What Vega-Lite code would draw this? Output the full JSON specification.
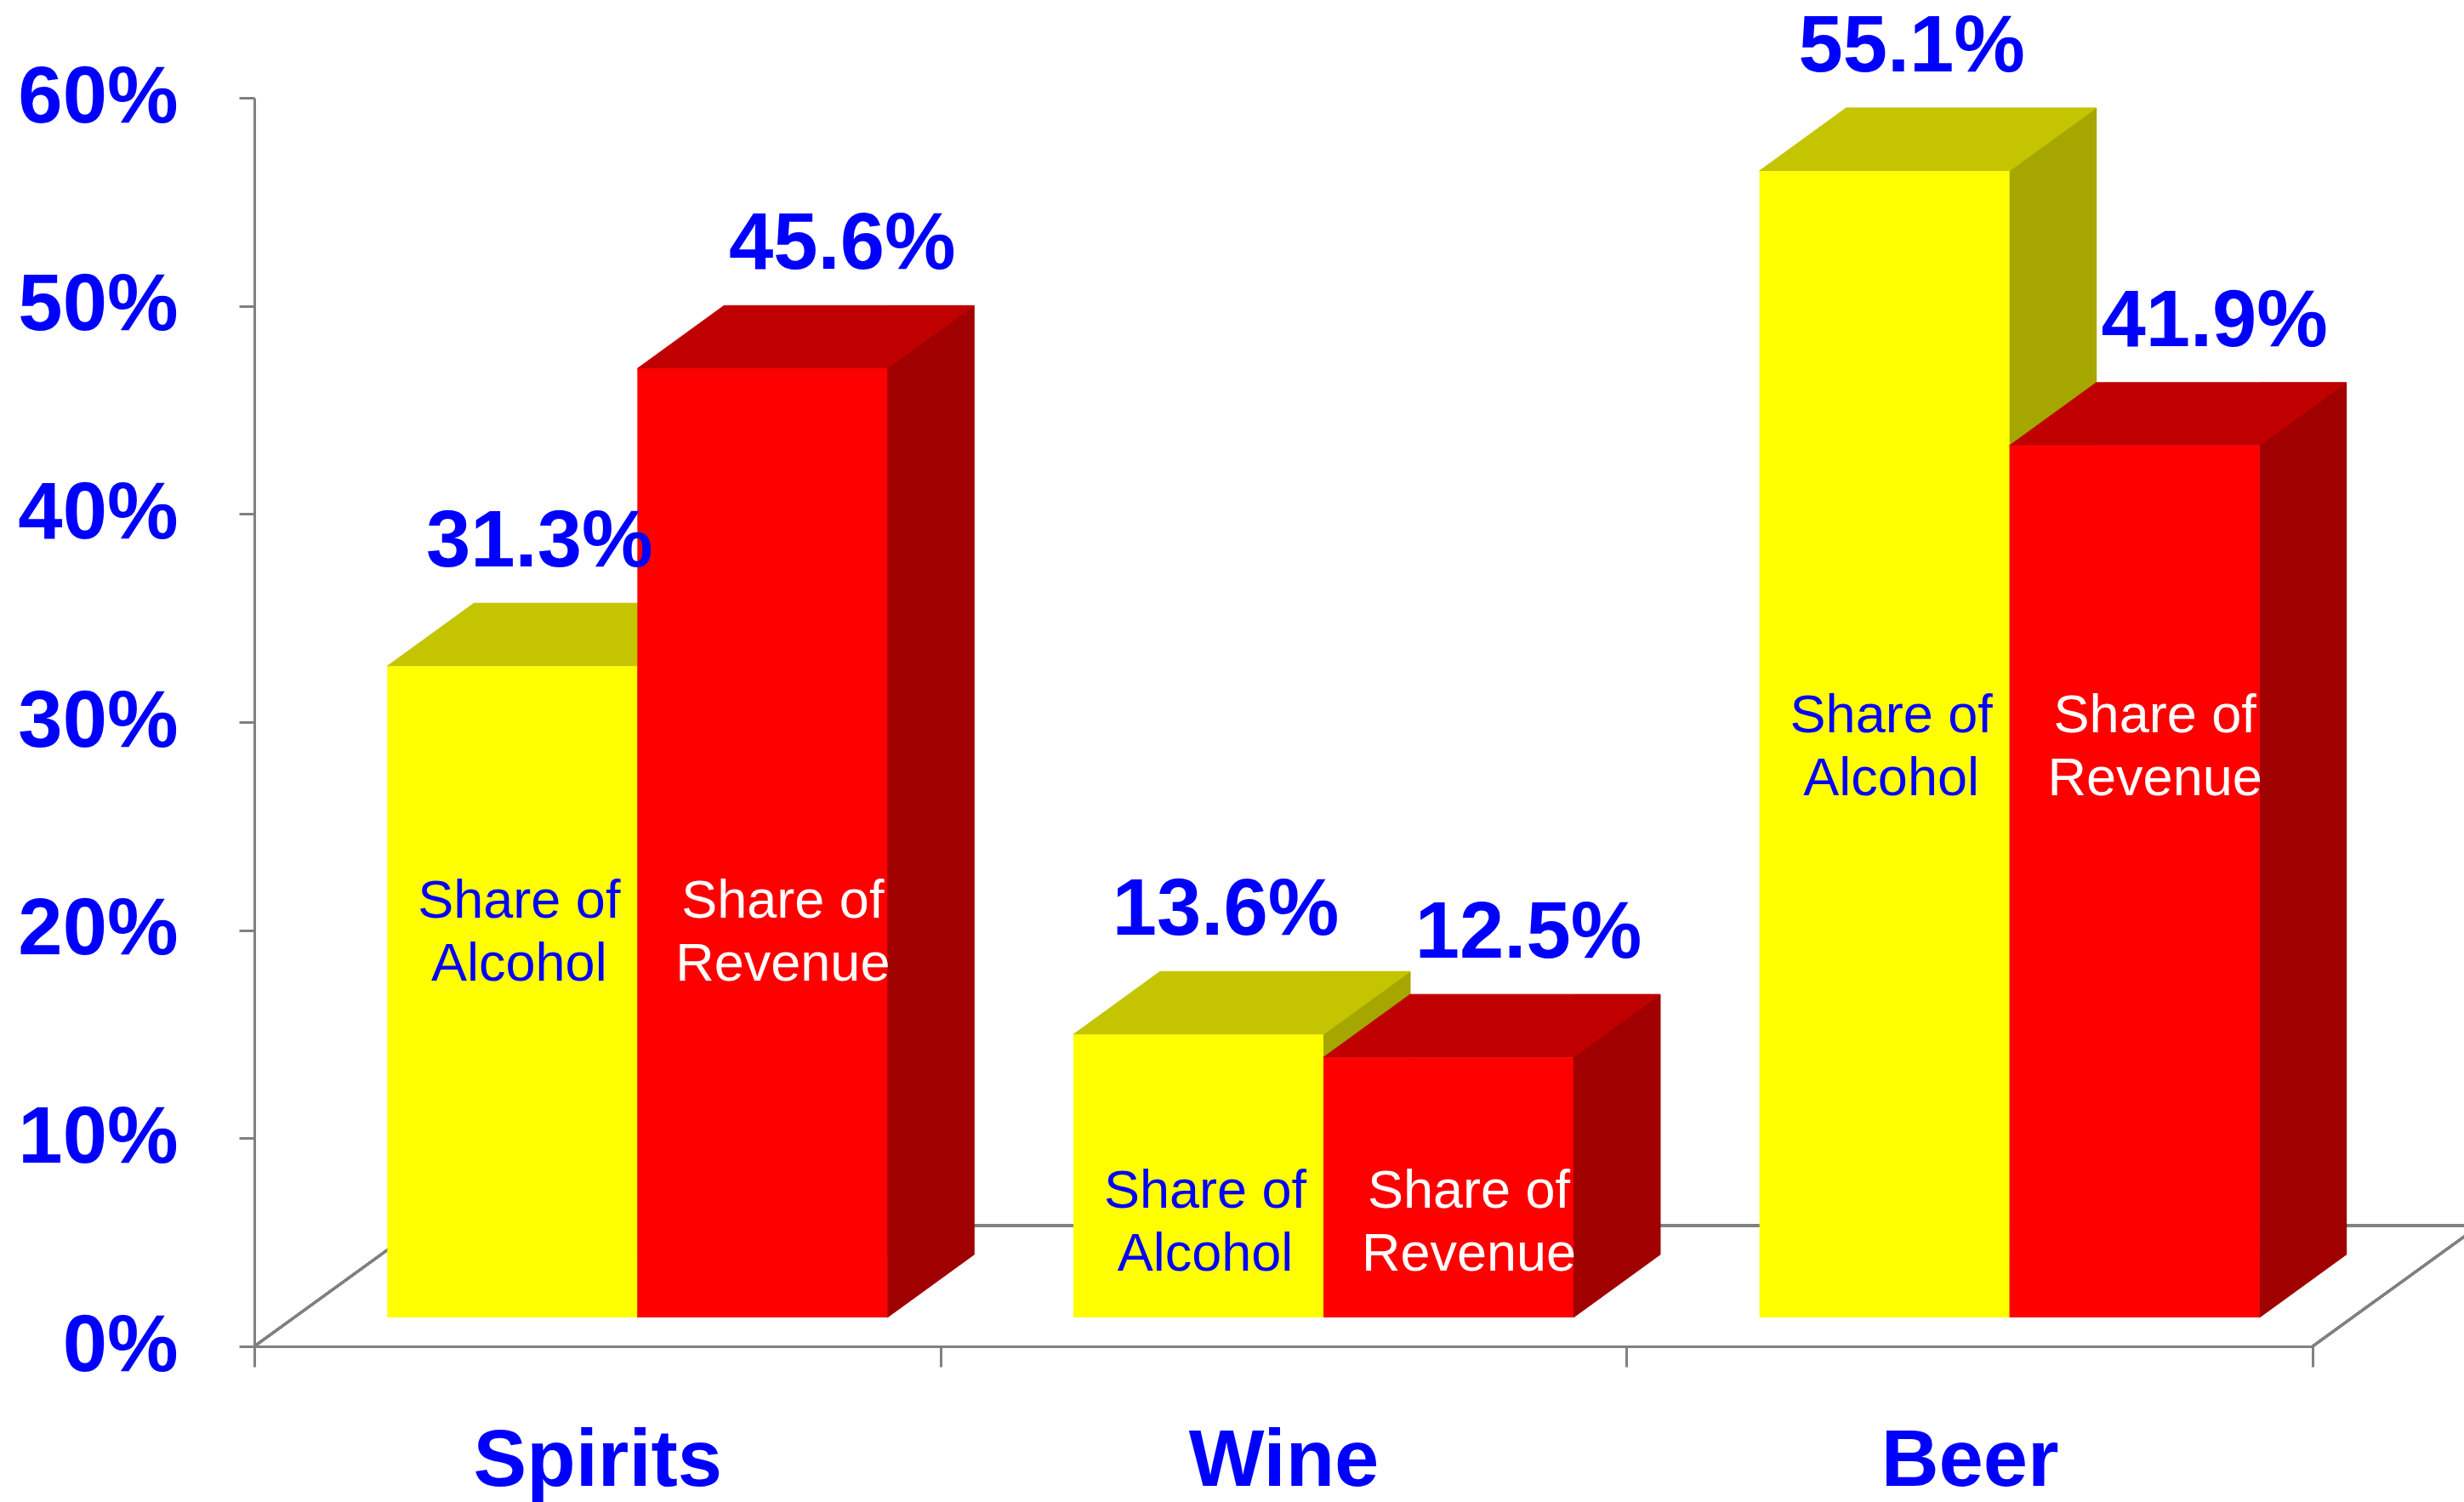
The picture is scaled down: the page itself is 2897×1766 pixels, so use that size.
{
  "$schema": "https://vega.github.io/schema/vega-lite/v6.json",
  "width": 2420,
  "height": 1468,
  "autosize": "none",
  "padding": {"left": 299, "top": 115, "right": 178, "bottom": 183},
  "background": "white",
  "config": {"view": {"stroke": null}, "font": "Liberation Sans"},
  "data": {
    "values": [
      {"drink": "Spirits", "measure": "Share of Alcohol", "share": 0.313, "label": "Share of\nAlcohol"},
      {"drink": "Spirits", "measure": "Share of Revenue", "share": 0.456, "label": "Share of\nRevenue"},
      {"drink": "Wine", "measure": "Share of Alcohol", "share": 0.136, "label": "Share of\nAlcohol"},
      {"drink": "Wine", "measure": "Share of Revenue", "share": 0.125, "label": "Share of\nRevenue"},
      {"drink": "Beer", "measure": "Share of Alcohol", "share": 0.551, "label": "Share of\nAlcohol"},
      {"drink": "Beer", "measure": "Share of Revenue", "share": 0.419, "label": "Share of\nRevenue"}
    ]
  },
  "encoding": {
    "x": {
      "field": "drink",
      "type": "nominal",
      "scale": {"domain": ["Spirits", "Wine", "Beer"], "paddingInner": 0, "paddingOuter": 0},
      "axis": {
        "title": null,
        "labelAngle": 0,
        "labelLimit": 2000,
        "labelFont": "Liberation Sans",
        "labelFontSize": 94,
        "labelFontWeight": "bold",
        "labelColor": "#0000FF",
        "tickBand": "extent",
        "tickSize": 24,
        "tickWidth": 3,
        "tickColor": "#808080",
        "domainColor": "#808080",
        "domainWidth": 3,
        "labelPadding": 111,
        "labelBaseline": "middle"
      }
    },
    "y": {
      "field": "share",
      "type": "quantitative",
      "scale": {"domain": [0, 0.6], "nice": false},
      "axis": {
        "title": null,
        "values": [0, 0.1, 0.2, 0.3, 0.4, 0.5, 0.6],
        "format": ".0%",
        "grid": false,
        "labelLimit": 2000,
        "labelFont": "Liberation Sans",
        "labelFontSize": 94,
        "labelFontWeight": "bold",
        "labelColor": "#0000FF",
        "tickSize": 18,
        "tickWidth": 3,
        "tickColor": "#808080",
        "domainColor": "#808080",
        "domainWidth": 3,
        "labelPadding": 72
      }
    }
  },
  "layer": [
    {
      "mark": {"type": "point", "shape": "M0,0L196,-142L2616,-142L2420,0", "size": 4, "filled": false, "stroke": "#808080", "strokeWidth": 3, "opacity": 1},
      "encoding": {
        "x": {"datum": "Spirits", "type": "nominal", "bandPosition": 0},
        "y": {"datum": 0, "type": "quantitative"}
      }
    },
    {
      "transform": [{"filter": "datum.measure === 'Share of Alcohol'"}],
      "mark": {"type": "bar", "width": 103, "xOffset": 98, "yOffset": -108, "y2Offset": -108, "color": "#A6A600"},
      "encoding": {"y2": {"datum": 0}}
    },
    {
      "transform": [{"filter": "datum.measure === 'Share of Alcohol'"}],
      "mark": {"type": "point", "shape": "M47,-108L47,-34L149,-108Z", "size": 4, "filled": true, "fill": "#A6A600", "stroke": "#A6A600", "strokeWidth": 1, "opacity": 1},
      "encoding": {"y": {"datum": 0, "type": "quantitative"}}
    },
    {
      "transform": [{"filter": "datum.measure === 'Share of Alcohol'"}],
      "mark": {"type": "point", "shape": "M-247,-34L47,-34L149,-108L-145,-108Z", "size": 4, "filled": true, "fill": "#C4C400", "stroke": "#C4C400", "strokeWidth": 1, "opacity": 1}
    },
    {
      "transform": [{"filter": "datum.measure === 'Share of Alcohol'"}],
      "mark": {"type": "bar", "width": 294, "xOffset": -100, "yOffset": -34, "y2Offset": -34, "color": "#FFFF00"},
      "encoding": {"y2": {"datum": 0}}
    },
    {
      "transform": [{"filter": "datum.measure === 'Share of Revenue'"}],
      "mark": {"type": "bar", "width": 103, "xOffset": 392, "yOffset": -108, "y2Offset": -108, "color": "#A00000"},
      "encoding": {"y2": {"datum": 0}}
    },
    {
      "transform": [{"filter": "datum.measure === 'Share of Revenue'"}],
      "mark": {"type": "point", "shape": "M341,-108L341,-34L443,-108Z", "size": 4, "filled": true, "fill": "#A00000", "stroke": "#A00000", "strokeWidth": 1, "opacity": 1},
      "encoding": {"y": {"datum": 0, "type": "quantitative"}}
    },
    {
      "transform": [{"filter": "datum.measure === 'Share of Revenue'"}],
      "mark": {"type": "point", "shape": "M47,-34L341,-34L443,-108L149,-108Z", "size": 4, "filled": true, "fill": "#C00000", "stroke": "#C00000", "strokeWidth": 1, "opacity": 1}
    },
    {
      "transform": [{"filter": "datum.measure === 'Share of Revenue'"}],
      "mark": {"type": "bar", "width": 294, "xOffset": 194, "yOffset": -34, "y2Offset": -34, "color": "#FF0000"},
      "encoding": {"y2": {"datum": 0}}
    },
    {
      "transform": [{"filter": "datum.measure === 'Share of Alcohol'"}],
      "mark": {"type": "text", "dx": -68, "dy": -151, "baseline": "alphabetic", "align": "center", "font": "Liberation Sans", "fontSize": 94, "fontWeight": "bold", "color": "#0000FF"},
      "encoding": {"text": {"field": "share", "type": "quantitative", "format": ".1%"}}
    },
    {
      "transform": [{"filter": "datum.measure === 'Share of Revenue'"}],
      "mark": {"type": "text", "dx": 288, "dy": -151, "baseline": "alphabetic", "align": "center", "font": "Liberation Sans", "fontSize": 94, "fontWeight": "bold", "color": "#0000FF"},
      "encoding": {"text": {"field": "share", "type": "quantitative", "format": ".1%"}}
    },
    {
      "transform": [{"filter": "datum.drink === 'Spirits' && datum.measure === 'Share of Alcohol'"}],
      "mark": {"type": "text", "dx": -92, "dy": -36, "baseline": "middle", "align": "center", "font": "Liberation Sans", "fontSize": 63, "lineHeight": 74, "lineBreak": "\n", "color": "#0000FF"},
      "encoding": {"y": {"datum": 0.199, "type": "quantitative"}, "text": {"field": "label"}}
    },
    {
      "transform": [{"filter": "datum.drink === 'Spirits' && datum.measure === 'Share of Revenue'"}],
      "mark": {"type": "text", "dx": 218, "dy": -36, "baseline": "middle", "align": "center", "font": "Liberation Sans", "fontSize": 63, "lineHeight": 74, "lineBreak": "\n", "color": "#FFFFFF"},
      "encoding": {"y": {"datum": 0.199, "type": "quantitative"}, "text": {"field": "label"}}
    },
    {
      "transform": [{"filter": "datum.drink === 'Wine' && datum.measure === 'Share of Alcohol'"}],
      "mark": {"type": "text", "dx": -92, "dy": -36, "baseline": "middle", "align": "center", "font": "Liberation Sans", "fontSize": 63, "lineHeight": 74, "lineBreak": "\n", "color": "#0000FF"},
      "encoding": {"y": {"datum": 0.0596, "type": "quantitative"}, "text": {"field": "label"}}
    },
    {
      "transform": [{"filter": "datum.drink === 'Wine' && datum.measure === 'Share of Revenue'"}],
      "mark": {"type": "text", "dx": 218, "dy": -36, "baseline": "middle", "align": "center", "font": "Liberation Sans", "fontSize": 63, "lineHeight": 74, "lineBreak": "\n", "color": "#FFFFFF"},
      "encoding": {"y": {"datum": 0.0596, "type": "quantitative"}, "text": {"field": "label"}}
    },
    {
      "transform": [{"filter": "datum.drink === 'Beer' && datum.measure === 'Share of Alcohol'"}],
      "mark": {"type": "text", "dx": -92, "dy": -36, "baseline": "middle", "align": "center", "font": "Liberation Sans", "fontSize": 63, "lineHeight": 74, "lineBreak": "\n", "color": "#0000FF"},
      "encoding": {"y": {"datum": 0.2883, "type": "quantitative"}, "text": {"field": "label"}}
    },
    {
      "transform": [{"filter": "datum.drink === 'Beer' && datum.measure === 'Share of Revenue'"}],
      "mark": {"type": "text", "dx": 218, "dy": -36, "baseline": "middle", "align": "center", "font": "Liberation Sans", "fontSize": 63, "lineHeight": 74, "lineBreak": "\n", "color": "#FFFFFF"},
      "encoding": {"y": {"datum": 0.2883, "type": "quantitative"}, "text": {"field": "label"}}
    }
  ]
}
